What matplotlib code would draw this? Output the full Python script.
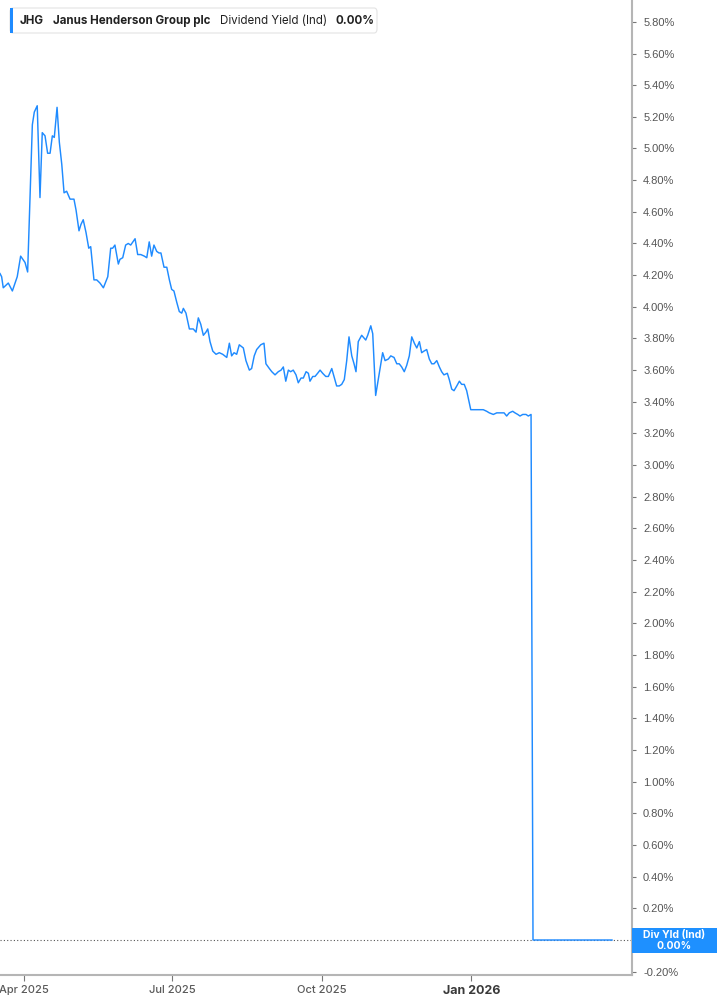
import matplotlib
matplotlib.use("Agg")
import matplotlib.pyplot as plt
import pandas as pd
from matplotlib.patches import FancyBboxPatch, Rectangle

plt.rcParams['font.family'] = ['Inter', 'DejaVu Sans']

# ---------------- data ----------------
start_date = "2025-03-17"
days_since_start = [
    0, 1.0, 2.0, 5.1, 7.6, 10.6, 12.7, 15.4, 17.0, 19.9, 21.1, 22.9, 24.6, 26.0,
    27.7, 29.3, 30.8, 32.2, 33.4, 35.1, 36.5, 38.0, 39.4, 41.0, 43.1, 45.5, 46.8,
    48.6, 49.8, 51.2, 52.9, 54.6, 55.8, 57.8, 59.5, 61.5, 63.6, 66.3, 68.1, 69.3,
    70.7, 72.8, 73.8, 75.5, 77.3, 78.9, 80.4, 83.1, 84.7, 86.6, 88.8, 90.3, 91.8,
    93.3, 94.7, 96.4, 97.8, 99.0, 100.9, 102.6, 104.2, 105.6, 107.0, 108.7, 110.3,
    111.8, 112.8, 114.4, 116.5, 117.9, 118.9, 120.6, 122.0, 123.5, 125.1, 126.7,
    127.8, 129.2, 130.9, 132.9, 134.9, 137.0, 139.5, 141.1, 142.5, 144.0, 145.6,
    147.2, 149.7, 151.3, 153.4, 154.8, 156.4, 157.9, 160.4, 162.4, 163.6, 165.7,
    167.2, 169.2, 171.2, 172.9, 174.3, 175.8, 177.4, 178.8, 180.4, 182.1, 183.5,
    185.2, 186.6, 188.3, 189.7, 190.7, 192.4, 193.8, 195.4, 196.9, 198.5, 200.4,
    202.0, 204.1, 205.7, 207.1, 208.7, 210.2, 211.8, 213.3, 214.7, 216.4, 217.8,
    219.0, 220.4, 222.5, 225.0, 226.2, 228.1, 229.3, 231.1, 233.3, 235.4, 236.9,
    238.9, 240.4, 242.4, 244.1, 245.6, 247.1, 248.7, 250.2, 251.8, 253.3, 254.9,
    256.4, 258.0, 259.4, 260.8, 262.5, 264.1, 265.6, 267.0, 268.7, 270.3, 271.7,
    273.1, 275.2, 276.4, 277.9, 279.3, 281.0, 282.6, 284.0, 285.6, 287.1, 289.6,
    291.2, 294.2, 297.3, 299.4, 301.0, 303.5, 305.6, 307.2, 308.6, 310.1, 311.7,
    313.3, 315.4, 316.8, 318.5, 319.9, 321.6, 323.6, 325.0, 326.7, 327.9, 376.5,
]
dividend_yield = [
    4.21, 4.19, 4.12, 4.15, 4.10, 4.19, 4.32, 4.28, 4.22, 5.15, 5.23, 5.27, 4.69, 5.10,
    5.08, 4.97, 4.97, 5.08, 5.07, 5.26, 5.04, 4.90, 4.72, 4.73, 4.68, 4.68, 4.61,
    4.48, 4.52, 4.55, 4.47, 4.37, 4.38, 4.17, 4.17, 4.15, 4.12, 4.19, 4.37, 4.37,
    4.39, 4.27, 4.30, 4.31, 4.39, 4.40, 4.39, 4.43, 4.33, 4.33, 4.32, 4.31, 4.41,
    4.32, 4.39, 4.35, 4.34, 4.34, 4.25, 4.25, 4.17, 4.11, 4.10, 4.03, 3.97,
    3.96, 3.99, 3.96, 3.86, 3.86, 3.86, 3.84, 3.93, 3.89, 3.82, 3.84,
    3.86, 3.78, 3.72, 3.70, 3.71, 3.70, 3.68, 3.77, 3.69, 3.71, 3.70,
    3.76, 3.74, 3.66, 3.60, 3.61, 3.69, 3.73, 3.76, 3.77, 3.64, 3.61,
    3.59, 3.57, 3.59, 3.60, 3.62, 3.53, 3.60, 3.59, 3.60, 3.57, 3.52,
    3.55, 3.55, 3.59, 3.58, 3.53, 3.56, 3.56, 3.58, 3.60, 3.58, 3.56,
    3.56, 3.61, 3.55, 3.50, 3.50, 3.51, 3.54, 3.66, 3.81, 3.69, 3.64,
    3.59, 3.78, 3.82, 3.79, 3.82, 3.88, 3.83, 3.44, 3.58, 3.71, 3.66,
    3.67, 3.69, 3.68, 3.64, 3.64, 3.62, 3.59, 3.63, 3.69, 3.81, 3.77,
    3.74, 3.78, 3.71, 3.72, 3.73, 3.67, 3.64, 3.64, 3.66, 3.62, 3.59,
    3.57, 3.58, 3.54, 3.48, 3.47, 3.50, 3.53, 3.51, 3.51, 3.47, 3.35,
    3.35, 3.35, 3.35, 3.34, 3.33, 3.32, 3.33, 3.33, 3.33, 3.33, 3.31,
    3.33, 3.34, 3.33, 3.32, 3.31, 3.32, 3.32, 3.31, 3.32, 0.00, 0.00,
]
x_tick_dates = ["2025-04-01", "2025-07-01", "2025-10-01", "2026-01-01"]
x_tick_labels = ["Apr 2025", "Jul 2025", "Oct 2025", "Jan 2026"]
y_ticks = [round(-0.20 + 0.20 * i, 2) for i in range(31)]
y_tick_labels = [f"{v:.2f}%" for v in y_ticks]
ticker_symbol = "JHG"
company_name = "Janus Henderson Group plc"
metric_name = "Dividend Yield (Ind)"
last_value_text = "0.00%"
badge_title = "Div Yld (Ind)"

# ---------------- figure ----------------
W, H = 717, 1005
fig = plt.figure(figsize=(W / 100, H / 100), dpi=100)
ax = fig.add_axes([0, 30 / H, 632 / W, 1 - 30 / H])

base = pd.Timestamp(start_date)
dates = [base + pd.Timedelta(days=d) for d in days_since_start]

LINE = "#1f8bff"
ax.plot(dates, dividend_yield, color=LINE, lw=1.05, solid_joinstyle="round", zorder=3)

ax.axhline(0, color="#555555", lw=0.8, ls=(0, (1, 2)), zorder=2)

ax.set_xlim(base, base + pd.Timedelta(days=388.8))
ax.set_ylim(-0.221, 5.938)

ax.set_xticks([pd.Timestamp(d) for d in x_tick_dates])
ax.set_xticklabels(x_tick_labels)
for lbl in ax.get_xticklabels():
    if lbl.get_text().startswith("Jan"):
        lbl.set_fontweight("bold")
        lbl.set_color("#3a3a3a")
        lbl.set_fontsize(9)
    else:
        lbl.set_fontweight("medium")
        lbl.set_color("#5a5a5a")
        lbl.set_fontsize(8)

ax.yaxis.tick_right()
ax.set_yticks(y_ticks)
# the 0.00% label sits underneath the value badge in the reference
ax.set_yticklabels(["" if v == 0 else t for v, t in zip(y_ticks, y_tick_labels)])
for lbl in ax.get_yticklabels():
    lbl.set_fontfamily(["Liberation Sans", "DejaVu Sans"])
ax.tick_params(axis="y", direction="out", length=3, width=0.8, color="#777777",
               labelsize=8, labelcolor="#555555", pad=5)
ax.tick_params(axis="x", direction="out", length=4, width=0.8, color="#777777", pad=3)

for s in ["top", "left"]:
    ax.spines[s].set_visible(False)
for s in ["right", "bottom"]:
    ax.spines[s].set_color("#b5b5b5")
    ax.spines[s].set_linewidth(1.5)
ax.set_facecolor("white")

# ---------------- legend box ----------------
def fx(px):
    return px / W

def fy(py):
    return 1 - py / H

box = FancyBboxPatch((fx(10), fy(33)), fx(377) - fx(10), fy(8) - fy(33),
                     boxstyle="round,pad=0,rounding_size=0.004",
                     transform=fig.transFigure, facecolor="white",
                     edgecolor="#e3e3e3", lw=0.8, zorder=5)
fig.patches.append(box)
fig.patches.append(Rectangle((fx(10), fy(33)), fx(13) - fx(10), fy(8) - fy(33),
                             transform=fig.transFigure, facecolor=LINE,
                             edgecolor="none", zorder=6))
ty = fy(21)
LFS = 8.3
fig.text(fx(20), ty, ticker_symbol, fontsize=LFS, fontweight="bold", color="#222222", va="center", zorder=7)
fig.text(fx(53), ty, company_name, fontsize=LFS, fontweight="bold", color="#222222", va="center", zorder=7)
fig.text(fx(220), ty, metric_name, fontsize=LFS, color="#222222", va="center", zorder=7)
fig.text(fx(335), ty, last_value_text, fontsize=LFS, fontweight="bold", color="#222222", va="center", zorder=7)

# ---------------- value badge on right axis ----------------
fig.patches.append(Rectangle((fx(632), fy(953)), fx(717) - fx(632), fy(928) - fy(953),
                             transform=fig.transFigure, facecolor="#1e90ff",
                             edgecolor="none", zorder=8))
fig.text(fx(674), fy(935), badge_title, fontsize=7.5, fontweight="bold", color="white",
         ha="center", va="center", zorder=9)
fig.text(fx(674), fy(946), last_value_text, fontsize=7.5, fontweight="bold", color="white",
         ha="center", va="center", zorder=9)

fig.savefig("out.png", dpi=100, facecolor="white")
